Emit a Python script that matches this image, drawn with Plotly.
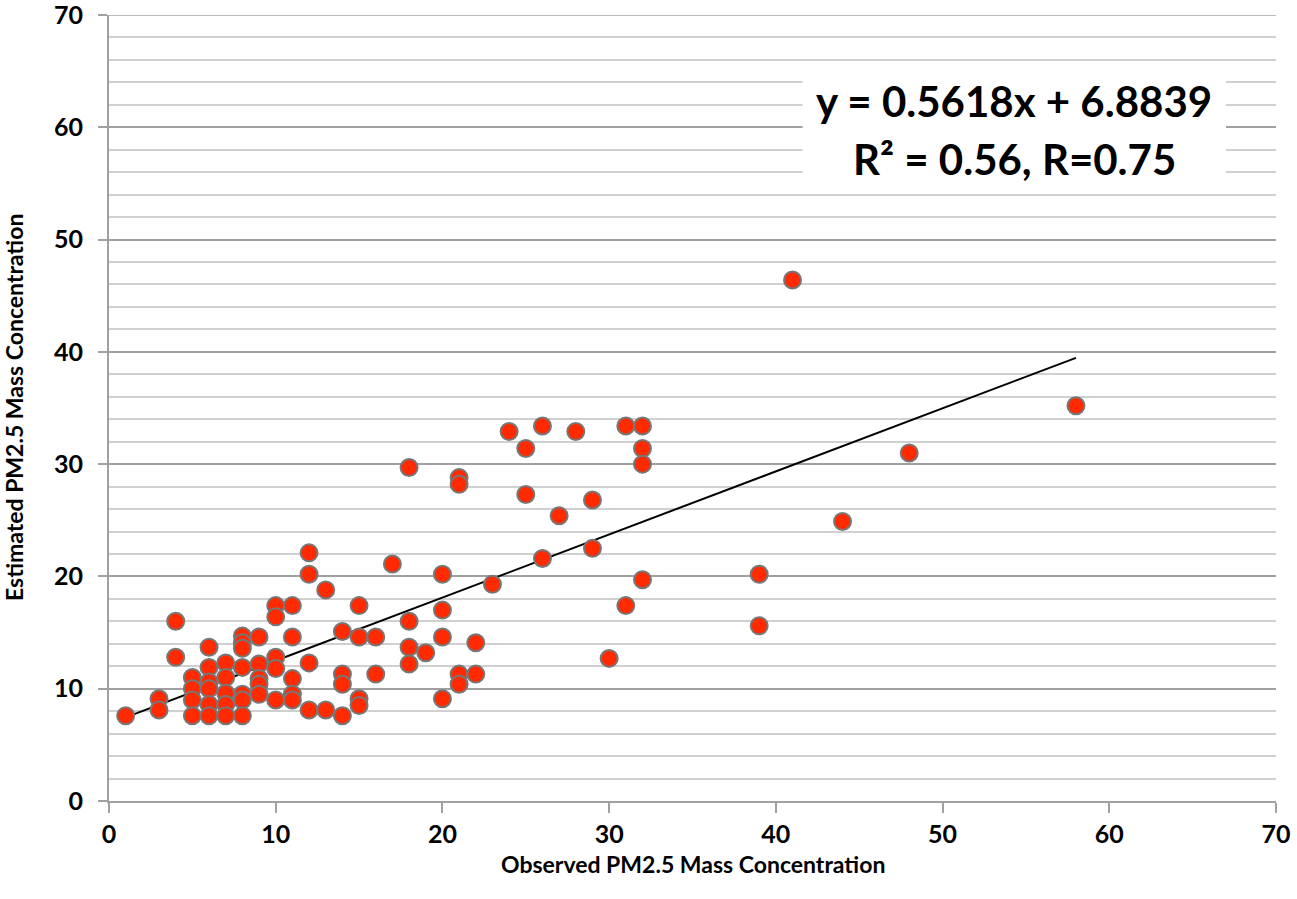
import plotly.graph_objects as go

# Observed (x) and estimated (y) PM2.5 values
observed = [
    1,
    3, 3,
    4, 4,
    5, 5, 5, 5,
    6, 6, 6, 6, 6, 6,
    7, 7, 7, 7, 7,
    8, 8, 8, 8, 8, 8, 8,
    9, 9, 9, 9, 9,
    10, 10, 10, 10, 10,
    11, 11, 11, 11, 11,
    12, 12, 12, 12,
    13, 13,
    14, 14, 14, 14,
    15, 15, 15, 15,
    16, 16,
    17,
    18, 18, 18, 18,
    19,
    20, 20, 20, 20,
    21, 21, 21, 21,
    22, 22,
    23,
    24,
    25, 25,
    26, 26,
    27,
    28,
    29, 29,
    30,
    31, 31,
    32, 32, 32, 32,
    39, 39,
    41,
    44,
    48,
    58,
]
estimated = [
    7.6,
    9.1, 8.1,
    16.0, 12.8,
    11.0, 10.0, 9.0, 7.6,
    13.7, 11.9, 10.6, 10.0, 8.6, 7.6,
    12.3, 11.0, 9.6, 8.6, 7.6,
    14.7, 14.1, 13.6, 11.9, 9.5, 9.0, 7.6,
    14.6, 12.2, 10.9, 10.4, 9.5,
    17.4, 16.4, 12.8, 11.8, 9.0,
    17.4, 14.6, 10.9, 9.5, 9.0,
    22.1, 20.2, 12.3, 8.1,
    18.8, 8.1,
    15.1, 11.3, 10.4, 7.6,
    17.4, 14.6, 9.1, 8.5,
    14.6, 11.3,
    21.1,
    29.7, 16.0, 13.7, 12.2,
    13.2,
    20.2, 17.0, 14.6, 9.1,
    28.8, 28.2, 11.3, 10.4,
    14.1, 11.3,
    19.3,
    32.9,
    31.4, 27.3,
    33.4, 21.6,
    25.4,
    32.9,
    26.8, 22.5,
    12.7,
    33.4, 17.4,
    33.4, 31.4, 30.0, 19.7,
    20.2, 15.6,
    46.4,
    24.9,
    31.0,
    35.2,
]

slope = 0.5618
intercept = 6.8839
fit_x = [min(observed), max(observed)]
fit_y = [slope * v + intercept for v in fit_x]

eq_lines = ["y = 0.5618x + 6.8839", "R² = 0.56, R=0.75"]
x_title = "Observed PM2.5 Mass Concentration"
y_title = "Estimated PM2.5 Mass Concentration"

FONT = "Lato, 'Open Sans', sans-serif"

fig = go.Figure()
fig.add_trace(go.Scatter(
    x=fit_x, y=fit_y, mode="lines",
    line=dict(color="black", width=2),
    hoverinfo="skip", showlegend=False,
))
fig.add_trace(go.Scatter(
    x=observed, y=estimated, mode="markers",
    marker=dict(size=17, color="#FF2A00", line=dict(color="#777777", width=2)),
    showlegend=False,
))

# white box behind the equation (covers gridlines)
fig.add_shape(type="rect", xref="x", yref="y", x0=41.6, x1=67.0, y0=54.15, y1=65.85,
              fillcolor="white", line=dict(width=0), layer="between")
# top border line at y = 70 (major gridline at the range edge)
fig.add_shape(type="line", xref="paper", yref="y", x0=0, x1=1, y0=70, y1=70,
              line=dict(color="#A0A0A0", width=1.5), layer="between")
fig.add_annotation(x=54.3, y=62.3, xref="x", yref="y", text="<b>" + eq_lines[0] + "</b>",
                   showarrow=False, font=dict(family=FONT, size=42, color="black"))
fig.add_annotation(x=54.3, y=57.2, xref="x", yref="y", text="<b>" + eq_lines[1] + "</b>",
                   showarrow=False, font=dict(family=FONT, size=42, color="black"))

# axis titles
fig.add_annotation(xref="paper", yref="paper", x=0.5, y=-0.0802, yanchor="middle",
                   text="<b>" + x_title + "</b>", showarrow=False,
                   font=dict(family=FONT, size=23, color="black"))
fig.add_annotation(xref="paper", yref="paper", x=-0.0814, y=0.5, xanchor="center",
                   text="<b>" + y_title + "</b>", showarrow=False, textangle=-90,
                   font=dict(family=FONT, size=23, color="black"))

fig.update_layout(
    width=1297, height=899,
    margin=dict(l=109, r=21, t=15, b=98),
    plot_bgcolor="white", paper_bgcolor="white",
    font=dict(family=FONT, color="black"),
)
fig.update_xaxes(
    range=[0, 70], dtick=10, tick0=0, automargin=False,
    showgrid=False, zeroline=False,
    showline=True, linecolor="#A0A0A0", linewidth=2,
    ticks="outside", ticklen=10, tickcolor="#A0A0A0", tickwidth=2,
    ticklabeloverflow="allow",
    tickfont=dict(size=25, family=FONT), tickprefix="<b>", ticksuffix="</b>",
)
fig.update_yaxes(
    range=[0, 70], dtick=10, tick0=0, automargin=False,
    showgrid=True, gridcolor="#A0A0A0", gridwidth=1.5,
    zeroline=False,
    showline=True, linecolor="#A0A0A0", linewidth=2,
    ticks="outside", ticklen=9, tickcolor="#A0A0A0", tickwidth=2,
    ticklabelstandoff=10, ticklabeloverflow="allow",
    tickfont=dict(size=25, family=FONT), tickprefix="<b>", ticksuffix="</b>",
    minor=dict(dtick=2, showgrid=True, gridcolor="#D0D0D0", gridwidth=1.5, ticks=""),
)

fig.write_html("out.html", config={"displayModeBar": False},
               post_script="document.body.style.margin='0';")
